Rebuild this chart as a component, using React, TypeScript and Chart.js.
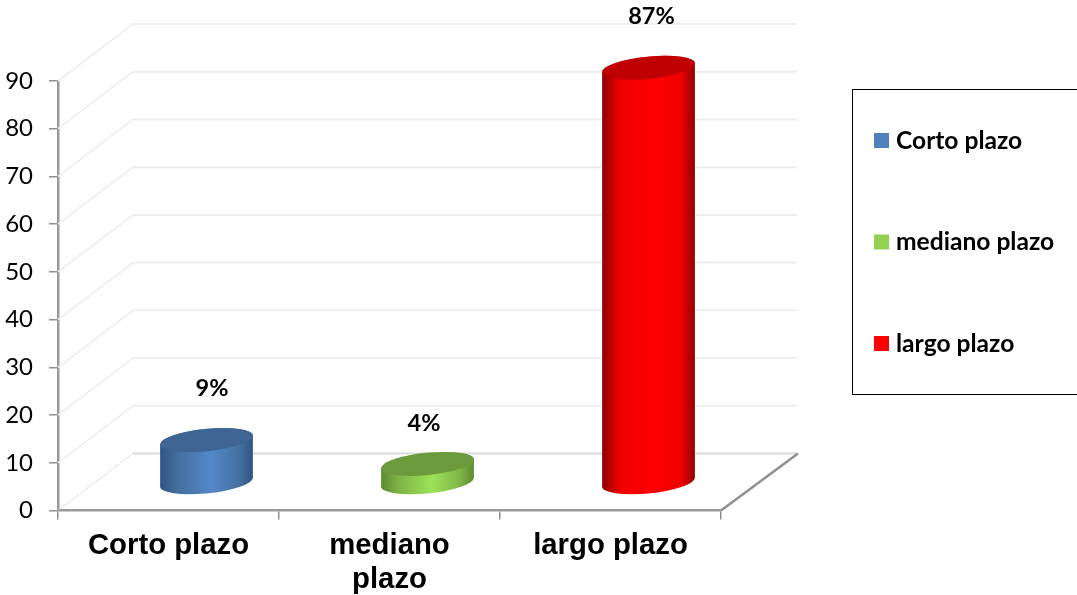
import React, { useEffect, useRef } from "react";
import { Chart, registerables } from "chart.js";

Chart.register(...registerables);

const categories: (string | string[])[] = ["Corto plazo", ["mediano", "plazo"], "largo plazo"];
const legendLabels = ["Corto plazo", "mediano plazo", "largo plazo"];
const values = [9, 4, 87];
const valueLabels = ["9%", "4%", "87%"];
const seriesColors = ["#4f81bd", "#92d050", "#ff0000"];
const topColors = ["#3e6594", "#6d9a3d", "#c00000"];
const edgeColors = ["#2f5585", "#5c8a30", "#8f0000"];
const shoulderColors = ["#44709f", "#7fb548", "#f00000"];
const midColors = ["#5488cb", "#9ee258", "#ff0000"];
const labelLift = [52, 40, 51.5];
const labelShift = [5.5, -3.5, 3];

const DEPTH_X = 75;
const DEPTH_Y = 57;
const VALUE_FONT = 'bold 23.5px Lato, "Open Sans", sans-serif';
const LEGEND_FONT = 'bold 24.6px Lato, "Open Sans", sans-serif';

const wallPlugin = {
  id: "wall",
  beforeDatasetsDraw(chart: any) {
    const { ctx, chartArea, scales } = chart;
    const y = scales.y;
    ctx.save();
    y.ticks.forEach((t: any) => {
      const py = y.getPixelForValue(t.value);
      const zero = t.value === 0;
      ctx.strokeStyle = zero ? "#d9d9d9" : "#eeeeee";
      ctx.lineWidth = 2;
      ctx.setLineDash([]);
      ctx.beginPath();
      ctx.moveTo(chartArea.left + DEPTH_X, py - DEPTH_Y);
      ctx.lineTo(chartArea.right + DEPTH_X + 1, py - DEPTH_Y);
      ctx.stroke();
      ctx.strokeStyle = zero ? "#cfcfcf" : "#eeeeee";
      ctx.lineWidth = zero ? 1 : 1.6;
      if (zero) ctx.setLineDash([2, 1]);
      ctx.beginPath();
      ctx.moveTo(chartArea.left, py);
      ctx.lineTo(chartArea.left + DEPTH_X, py - DEPTH_Y);
      ctx.stroke();
    });
    ctx.setLineDash([]);
    ctx.strokeStyle = "#8f8f8f";
    ctx.lineWidth = 2.5;
    ctx.beginPath();
    ctx.moveTo(chartArea.right, chartArea.bottom);
    ctx.lineTo(chartArea.right + DEPTH_X + 2, chartArea.bottom - DEPTH_Y);
    ctx.stroke();
    ctx.restore();
  },
};

function ellipsePathTangent(rx: number, ry: number, rot: number) {
  return Math.atan2(-ry * Math.sin(rot), rx * Math.cos(rot));
}

const cylinderPlugin = {
  id: "cylinder",
  beforeDatasetDraw(chart: any, args: any) {
    const { ctx } = chart;
    const meta = chart.getDatasetMeta(args.index);
    const rot = -0.1;
    meta.data.forEach((bar: any, i: number) => {
      const half = bar.width / 2;
      const rx = half * 1.004;
      const ry = half * 0.24;
      const cx = bar.x + DEPTH_X / 2 + 0.5;
      const topY = bar.y - DEPTH_Y / 2 + 1;
      const baseY = bar.base - DEPTH_Y / 2 + 1;
      const t0 = ellipsePathTangent(rx, ry, rot);

      const grad = ctx.createLinearGradient(cx - half, 0, cx + half, 0);
      grad.addColorStop(0, edgeColors[i]);
      grad.addColorStop(0.2, shoulderColors[i]);
      grad.addColorStop(0.55, midColors[i]);
      grad.addColorStop(0.85, shoulderColors[i]);
      grad.addColorStop(1, edgeColors[i]);

      ctx.save();
      ctx.beginPath();
      ctx.ellipse(cx, topY, rx, ry, rot, t0 + Math.PI, t0, false);
      ctx.ellipse(cx, baseY, rx, ry, rot, t0, t0 + Math.PI, false);
      ctx.closePath();
      ctx.fillStyle = grad;
      ctx.fill();
      ctx.beginPath();
      ctx.ellipse(cx, topY, rx, ry, rot, 0, Math.PI * 2);
      ctx.fillStyle = topColors[i];
      ctx.fill();

      ctx.fillStyle = "#000000";
      ctx.font = VALUE_FONT;
      ctx.textAlign = "center";
      ctx.textBaseline = "middle";
      ctx.fillText(valueLabels[i], cx + labelShift[i], topY - labelLift[i]);
      ctx.restore();
    });
    return false;
  },
};

const boxLegendPlugin = {
  id: "boxLegend",
  afterDraw(chart: any) {
    const { ctx } = chart;
    const colors = chart.data.datasets[0].backgroundColor;
    ctx.save();
    ctx.strokeStyle = "#000000";
    ctx.lineWidth = 1;
    ctx.strokeRect(852.5, 89.5, 240, 305);
    ctx.font = LEGEND_FONT;
    ctx.textAlign = "left";
    ctx.textBaseline = "middle";
    legendLabels.forEach((label, i) => {
      const rowY = 140.5 + i * 101.5;
      ctx.fillStyle = colors[i];
      ctx.fillRect(874, rowY - 7.5, 15, 15);
      ctx.fillStyle = "#000000";
      ctx.fillText(label, 896, rowY + 0.5);
    });
    ctx.restore();
  },
};

export default function App() {
  const ref = useRef<HTMLCanvasElement | null>(null);
  useEffect(() => {
    if (!ref.current) return;
    const chart = new Chart(ref.current, {
      type: "bar",
      data: {
        labels: categories as any,
        datasets: [
          {
            label: "Plazo",
            data: values,
            backgroundColor: seriesColors,
            categoryPercentage: 1,
            barPercentage: 0.42,
          },
        ],
      },
      options: {
        responsive: false,
        animation: false,
        devicePixelRatio: 1,
        layout: { padding: { top: 81, right: 356, left: 0, bottom: 0 } },
        plugins: { legend: { display: false }, tooltip: { enabled: false } },
        scales: {
          x: {
            afterFit: (s: any) => {
              s.height = 84.5;
            },
            grid: {
              offset: true,
              drawOnChartArea: false,
              drawTicks: true,
              tickLength: 9,
              color: "#8f8f8f",
              lineWidth: 1.5,
            },
            border: { display: true, color: "#9a9a9a", width: 2.5 },
            ticks: {
              color: "#000000",
              maxRotation: 0,
              padding: 9,
              font: { family: '"Liberation Sans", Arial, sans-serif', size: 29.3, weight: "bold", lineHeight: 1.17 },
            },
          },
          y: {
            min: 0,
            max: 90,
            afterFit: (s: any) => {
              s.width = 58;
            },
            grid: {
              drawOnChartArea: false,
              drawTicks: true,
              tickLength: 9,
              color: "#8f8f8f",
              lineWidth: 1.5,
            },
            border: { display: true, color: "#9a9a9a", width: 2.5 },
            ticks: {
              stepSize: 10,
              color: "#000000",
              padding: 16,
              font: { family: 'Lato, "Open Sans", sans-serif', size: 24 },
            },
          },
        },
      },
      plugins: [wallPlugin, cylinderPlugin, boxLegendPlugin],
    } as any);
    return () => chart.destroy();
  }, []);
  return (
    <div style={{ position: "fixed", left: 0, top: 0, width: 1077, height: 595, background: "#ffffff" }}>
      <canvas ref={ref} width={1077} height={595} style={{ display: "block" }} />
    </div>
  );
}
